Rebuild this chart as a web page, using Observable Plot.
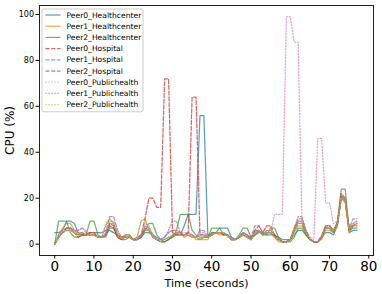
<!DOCTYPE html>
<html>
<head>
<meta charset="utf-8">
<script src="https://cdn.jsdelivr.net/npm/d3@7"></script>
<script src="https://cdn.jsdelivr.net/npm/@observablehq/plot@0.6"></script>
<style>
  html, body { margin: 0; padding: 0; background: #fff; }
  svg { display: block; }
</style>
</head>
<body>
<div id="chart"></div>
<script>
// ---- data ----
const seriesNames = [
  "Peer0_Healthcenter", "Peer1_Healthcenter", "Peer2_Healthcenter",
  "Peer0_Hospital", "Peer1_Hospital", "Peer2_Hospital",
  "Peer0_Publichealth", "Peer1_Publichealth", "Peer2_Publichealth"
];
const seriesColors = ["#1f77b4", "#ff7f0e", "#2ca02c", "#d62728", "#9467bd", "#8c564b", "#e377c2", "#7f7f7f", "#bcbd22"];
const seriesStyles = ["solid", "solid", "solid", "dashed", "dashed", "dashed", "dotted", "dotted", "dotted"];

const timeSeconds = d3.range(0, 78); // 0 .. 77 s

const peer0Healthcenter = [
  5, 5, 6, 10, 10, 9, 5, 4, 4, 5,
  5, 5, 5, 6, 6, 5, 4, 3, 4, 4,
  2, 2, 3, 5, 5, 4, 3, 2, 2, 3,
  3, 4, 4, 8, 13, 13, 13, 56, 56, 4,
  4, 5, 7, 7, 7, 3, 2, 3, 5, 4,
  2, 4, 5, 5, 4, 4, 4, 3, 2, 2,
  2, 4, 6, 6, 4, 2, 1, 1, 3, 5,
  5, 4, 8, 20, 19, 5, 6, 6];
const peer1Healthcenter = [
  0, 4, 7, 9, 9, 6, 4, 4, 4, 5,
  5, 3, 3, 4, 9, 9, 4, 2, 4, 4,
  2, 2, 3, 6, 6, 4, 2, 1, 1, 2,
  3, 5, 5, 3, 4, 4, 2, 2, 2, 2,
  5, 5, 4, 4, 4, 2, 2, 3, 4, 3,
  2, 5, 6, 4, 5, 5, 3, 1, 1, 1,
  2, 5, 8, 8, 5, 2, 1, 1, 2, 6,
  6, 5, 8, 20, 18, 5, 8, 9];
const peer2Healthcenter = [
  0, 10, 10, 10, 5, 3, 3, 4, 4, 10,
  10, 4, 3, 3, 7, 7, 3, 2, 2, 3,
  2, 2, 3, 6, 9, 9, 4, 2, 1, 2,
  3, 6, 13, 13, 13, 6, 4, 3, 3, 3,
  7, 7, 7, 4, 4, 2, 2, 4, 7, 7,
  3, 4, 6, 4, 4, 7, 7, 3, 1, 1,
  1, 3, 7, 7, 4, 2, 1, 1, 3, 7,
  7, 5, 10, 24, 24, 6, 7, 7];
const peer0Hospital = [
  0, 3, 5, 7, 7, 5, 3, 4, 4, 5,
  5, 3, 3, 4, 8, 7, 3, 2, 3, 3,
  2, 3, 4, 11, 20, 20, 16, 16, 72, 72,
  5, 4, 4, 4, 5, 64, 64, 4, 4, 3,
  4, 5, 5, 4, 4, 2, 2, 3, 5, 4,
  2, 6, 8, 5, 8, 8, 4, 2, 1, 1,
  2, 6, 9, 9, 5, 2, 1, 1, 3, 8,
  8, 6, 9, 22, 20, 6, 8, 9];
const peer1Hospital = [
  0, 3, 5, 7, 7, 6, 6, 7, 5, 4,
  4, 3, 3, 5, 12, 12, 6, 3, 3, 3,
  2, 2, 3, 8, 7, 4, 2, 2, 3, 5,
  6, 6, 5, 4, 4, 3, 3, 6, 6, 3,
  4, 5, 5, 5, 4, 3, 2, 3, 5, 4,
  3, 8, 8, 5, 5, 5, 3, 2, 1, 1,
  2, 7, 11, 11, 6, 2, 1, 1, 4, 8,
  8, 6, 9, 21, 20, 7, 11, 11];
const peer2Hospital = [
  0, 3, 5, 6, 6, 5, 4, 5, 4, 4,
  4, 3, 3, 4, 9, 8, 4, 3, 3, 3,
  2, 2, 4, 7, 6, 3, 2, 1, 1, 2,
  4, 5, 4, 4, 5, 4, 3, 2, 3, 3,
  5, 5, 5, 5, 4, 2, 2, 3, 4, 3,
  2, 6, 6, 4, 6, 6, 4, 2, 1, 1,
  2, 6, 10, 10, 5, 2, 1, 1, 3, 7,
  7, 6, 9, 21, 19, 7, 8, 8];
const peer0Publichealth = [
  0, 3, 5, 6, 6, 6, 6, 7, 6, 4,
  4, 3, 3, 4, 10, 10, 5, 3, 3, 3,
  2, 2, 4, 9, 8, 4, 2, 2, 3, 5,
  6, 6, 5, 5, 5, 4, 3, 5, 5, 3,
  4, 5, 5, 5, 3, 2, 2, 3, 5, 4,
  2, 5, 6, 5, 5, 5, 13, 13, 13, 99,
  99, 88, 88, 10, 6, 3, 2, 46, 46, 18,
  18, 9, 10, 21, 20, 7, 9, 10];
const peer1Publichealth = [
  0, 4, 6, 7, 7, 6, 5, 5, 4, 4,
  4, 3, 3, 8, 11, 9, 4, 3, 3, 3,
  2, 3, 10, 11, 6, 3, 2, 2, 3, 6,
  10, 10, 5, 4, 4, 3, 3, 4, 4, 3,
  4, 5, 5, 5, 4, 2, 2, 3, 4, 3,
  2, 5, 6, 4, 5, 5, 3, 2, 1, 1,
  2, 7, 12, 12, 6, 2, 1, 1, 3, 7,
  7, 6, 9, 20, 19, 6, 9, 10];
const peer2Publichealth = [
  0, 3, 5, 6, 6, 5, 4, 5, 4, 4,
  4, 3, 3, 9, 11, 9, 4, 3, 3, 3,
  2, 3, 10, 11, 6, 3, 2, 2, 2, 3,
  4, 5, 4, 4, 4, 3, 3, 2, 3, 3,
  4, 5, 5, 5, 4, 2, 2, 3, 4, 3,
  2, 5, 6, 4, 5, 5, 3, 2, 1, 1,
  2, 6, 9, 9, 5, 2, 1, 1, 3, 7,
  7, 6, 9, 20, 19, 6, 8, 9];

const seriesValues = [
  peer0Healthcenter, peer1Healthcenter, peer2Healthcenter,
  peer0Hospital, peer1Hospital, peer2Hospital,
  peer0Publichealth, peer1Publichealth, peer2Publichealth
];

const xTicks = [0, 10, 20, 30, 40, 50, 60, 70, 80];
const yTicks = [0, 20, 40, 60, 80, 100];
const xLabel = "Time (seconds)";
const yLabel = "CPU (%)";

// ---- build ----
const dashFor = {solid: null, dashed: "4,1.8", dotted: "1.2,1.8"};
const FONT = "DejaVu Sans, Liberation Sans, sans-serif";

const lineMarks = seriesNames.map((name, i) => {
  const rows = timeSeconds.map((t, j) => ({t, v: seriesValues[i][j], name}));
  return Plot.line(rows, {
    x: "t", y: "v",
    stroke: seriesColors[i],
    strokeWidth: 1.25,
    strokeOpacity: 0.72,
    strokeDasharray: dashFor[seriesStyles[i]]
  });
});

const chart = Plot.plot({
  width: 382,
  height: 294,
  marginLeft: 39,
  marginRight: 9,
  marginTop: 5,
  marginBottom: 39,
  style: {fontFamily: FONT, background: "#fff", color: "#000"},
  x: {domain: [-3.87, 81.2]},
  y: {domain: [-4.95, 103.9]},
  marks: [
    ...lineMarks,
    Plot.frame({stroke: "#222", strokeWidth: 1}),
    Plot.axisX({ticks: xTicks, tickSize: 3.5, tickPadding: 2, fontSize: 13.5, label: null, tickFormat: d3.format("d")}),
    Plot.axisY({ticks: yTicks, tickSize: 3.5, tickPadding: 2, fontSize: 8, label: null, tickFormat: d3.format("d")}),
    Plot.text([xLabel], {frameAnchor: "bottom", dy: 28, fontSize: 11, textAnchor: "middle", lineAnchor: "middle"}),
    Plot.text([yLabel], {frameAnchor: "left", dx: -29, rotate: -90, fontSize: 12, textAnchor: "middle", lineAnchor: "middle"})
  ]
});

document.getElementById("chart").appendChild(chart);

// ---- legend (inside the SVG, upper left) ----
const svg = d3.select(chart);
const lg = svg.append("g")
  .attr("font-family", FONT).attr("font-size", 7.6)
  .attr("text-anchor", "start");
const lx = 42, ly = 9, lw = 101, rowH = 11.2;
lg.append("rect")
  .attr("x", lx).attr("y", ly).attr("width", lw).attr("height", rowH * seriesNames.length + 2)
  .attr("rx", 2).attr("fill", "#fff").attr("fill-opacity", 0.85)
  .attr("stroke", "#cccccc").attr("stroke-width", 1);
seriesNames.forEach((name, i) => {
  const y = ly + 6 + i * rowH;
  lg.append("line")
    .attr("x1", lx + 3.5).attr("x2", lx + 18.5).attr("y1", y).attr("y2", y)
    .attr("stroke", seriesColors[i]).attr("stroke-width", 1.25).attr("stroke-opacity", 0.72)
    .attr("stroke-dasharray", dashFor[seriesStyles[i]]);
  lg.append("text")
    .attr("x", lx + 24.5).attr("y", y).attr("dy", "0.35em")
    .attr("text-anchor", "start")
    .attr("fill", "#000").text(name);
});
</script>
</body>
</html>
